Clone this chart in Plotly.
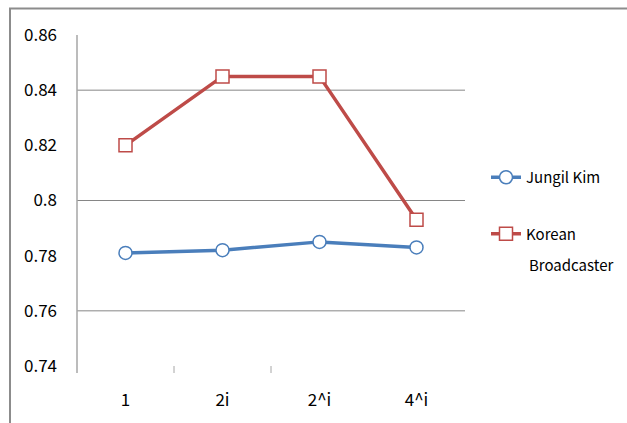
import plotly.graph_objects as go

# Data
categories = ["1", "2i", "2^i", "4^i"]
jungil_kim = [0.781, 0.782, 0.785, 0.783]
korean_broadcaster = [0.820, 0.845, 0.845, 0.793]
y_ticks = [0.74, 0.76, 0.78, 0.80, 0.82, 0.84, 0.86]
y_tick_text = ["0.74", "0.76", "0.78", "0.8", "0.82", "0.84", "0.86"]
grid_values = [0.76, 0.80, 0.84]

W, H = 627, 423
ML, MR, MT, MB = 77, 162, 35, 57
PW, PH = W - ML - MR, H - MT - MB

FONT = "Noto Sans CJK KR, DejaVu Sans, sans-serif"
BLUE = "#4a7ebb"
RED = "#be4b48"

fig = go.Figure()
fig.add_trace(go.Scatter(
    x=categories, y=jungil_kim, name="Jungil Kim", mode="lines+markers",
    legendgroup="jk",
    line=dict(color=BLUE, width=3.5),
    marker=dict(symbol="circle", size=13, color="white", line=dict(color=BLUE, width=1.5)),
))
fig.add_trace(go.Scatter(
    x=categories, y=korean_broadcaster, name="Korean", mode="lines+markers",
    legendgroup="kb",
    line=dict(color=RED, width=3.5),
    marker=dict(symbol="square", size=13, color="white", line=dict(color=RED, width=1.5)),
))

shapes = []
# horizontal gridlines every 0.04
for g in grid_values:
    shapes.append(dict(type="line", xref="paper", yref="y", x0=0, x1=1, y0=g, y1=g,
                       line=dict(color="#868686", width=1), layer="below"))
# vertical axis line (extends a little below the plot)
shapes.append(dict(type="line", xref="paper", yref="paper", x0=0, x1=0, y0=-7 / PH, y1=1,
                   line=dict(color="#a6a6a6", width=1.5)))
# category boundary ticks
for b in [0.5, 1.5]:
    shapes.append(dict(type="line", xref="x", yref="paper", x0=b, x1=b, y0=-7 / PH, y1=0,
                       line=dict(color="#a6a6a6", width=1)))
# outer frame (top and left edges visible)
shapes.append(dict(type="rect", xref="paper", yref="paper",
                   x0=(10 - ML) / PW, x1=(W + 20 - ML) / PW,
                   y0=-(MB + 20) / PH, y1=(H - MB - 8.5) / PH,
                   line=dict(color="#8c8c8c", width=2), fillcolor="rgba(0,0,0,0)"))

fig.update_layout(
    width=W, height=H,
    margin=dict(l=ML, r=MR, t=MT, b=MB),
    paper_bgcolor="white", plot_bgcolor="white",
    font=dict(family=FONT, color="black"),
    showlegend=True,
    legend=dict(x=(486 - ML) / PW, y=(H - MB - 161) / PH, xanchor="left", yanchor="top",
                font=dict(size=15, family=FONT), itemwidth=30, tracegroupgap=34,
                bgcolor="rgba(0,0,0,0)"),
    annotations=[dict(text="Broadcaster", xref="paper", yref="paper",
                      x=(527 - ML) / PW, y=(H - MB - 264) / PH, xanchor="left", yanchor="middle",
                      showarrow=False, font=dict(size=15, family=FONT))],
    shapes=shapes,
    xaxis=dict(type="category", range=[-0.5, 3.5], showgrid=False, showline=False,
               zeroline=False, ticks="", tickfont=dict(size=17, family=FONT),
               ticklabelstandoff=22),
    yaxis=dict(range=[0.74, 0.86], tickvals=y_ticks, ticktext=y_tick_text,
               showgrid=False, showline=False, zeroline=False, ticks="",
               tickfont=dict(size=17, family=FONT), ticklabelstandoff=19),
)

fig.write_html("out.html")
